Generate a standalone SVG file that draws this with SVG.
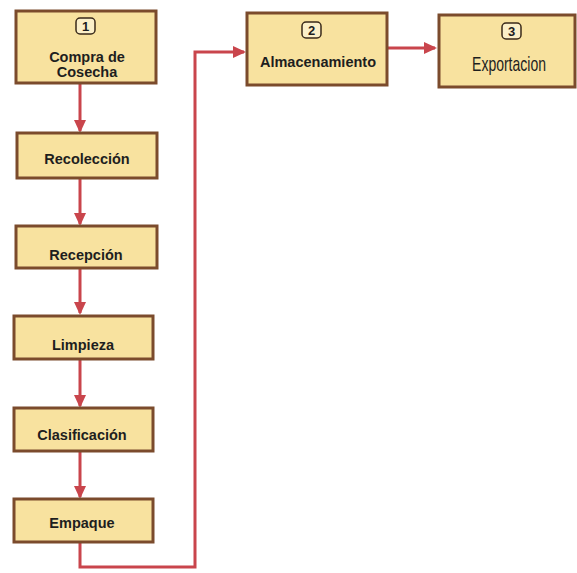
<svg xmlns="http://www.w3.org/2000/svg" width="577" height="573" viewBox="0 0 577 573">
<defs>
<marker id="ah" markerWidth="13" markerHeight="12" refX="11" refY="6" orient="auto" markerUnits="userSpaceOnUse">
<path d="M0,0 L13,6 L0,12 Z" fill="#C9454C"/>
</marker>
<style>
.box{fill:#F8E29F;stroke:#7B4B2C;stroke-width:3}
.badge{fill:#FBEFC8;stroke:#3A2A1A;stroke-width:1.5}
.lbl{font-family:"Liberation Sans",Arial,sans-serif;font-weight:bold;font-size:14.5px;fill:#1E1E1E;text-anchor:middle}
.num{font-family:"Liberation Sans",Arial,sans-serif;font-weight:bold;font-size:13px;fill:#1E1E1E;text-anchor:middle}
.con{fill:none;stroke:#C9454C;stroke-width:3}
</style>
</defs>
<rect width="577" height="573" fill="#ffffff"/>
<g id="connectors">
<line class="con" x1="80" y1="84" x2="80" y2="131" marker-end="url(#ah)"/>
<line class="con" x1="80" y1="179" x2="80" y2="224" marker-end="url(#ah)"/>
<line class="con" x1="80" y1="269" x2="80" y2="313" marker-end="url(#ah)"/>
<line class="con" x1="80" y1="360" x2="80" y2="406" marker-end="url(#ah)"/>
<line class="con" x1="80" y1="452" x2="80" y2="497" marker-end="url(#ah)"/>
<polyline class="con" points="80,543 80,567 195,567 195,52 244,52" marker-end="url(#ah)"/>
<line class="con" x1="388" y1="48" x2="435" y2="48" marker-end="url(#ah)"/>
</g>
<g id="n1">
<rect class="box" x="16" y="11" width="140" height="72"/>
<rect class="badge" x="76" y="18" width="19" height="16" rx="4"/>
<text class="num" x="85.5" y="31">1</text>
<text class="lbl" x="87" y="62">Compra de</text>
<text class="lbl" x="87" y="77">Cosecha</text>
</g>
<g id="n2">
<rect class="box" x="17" y="133" width="140" height="45"/>
<text class="lbl" x="87" y="164">Recolección</text>
</g>
<g id="n3">
<rect class="box" x="16" y="226" width="141" height="42"/>
<text class="lbl" x="86" y="260">Recepción</text>
</g>
<g id="n4">
<rect class="box" x="14" y="316" width="139" height="43"/>
<text class="lbl" x="83" y="350">Limpieza</text>
</g>
<g id="n5">
<rect class="box" x="14" y="408" width="139" height="43"/>
<text class="lbl" x="82" y="440">Clasificación</text>
</g>
<g id="n6">
<rect class="box" x="14" y="499" width="139" height="43"/>
<text class="lbl" x="82" y="528">Empaque</text>
</g>
<g id="n7">
<rect class="box" x="247" y="13" width="140" height="72"/>
<rect class="badge" x="302" y="22" width="19" height="16" rx="4"/>
<text class="num" x="311.5" y="35">2</text>
<text class="lbl" x="318" y="67">Almacenamiento</text>
</g>
<g id="n8">
<rect class="box" x="439" y="15" width="136" height="72"/>
<rect class="badge" x="502" y="23" width="19" height="16" rx="4"/>
<text class="num" x="511.5" y="36">3</text>
<text x="0" y="0" transform="translate(509,71) scale(0.7,1)" style="font-family:'Liberation Sans',Arial,sans-serif;font-size:20px;fill:#1E1E1E;text-anchor:middle">Exportacion</text>
</g>
</svg>
